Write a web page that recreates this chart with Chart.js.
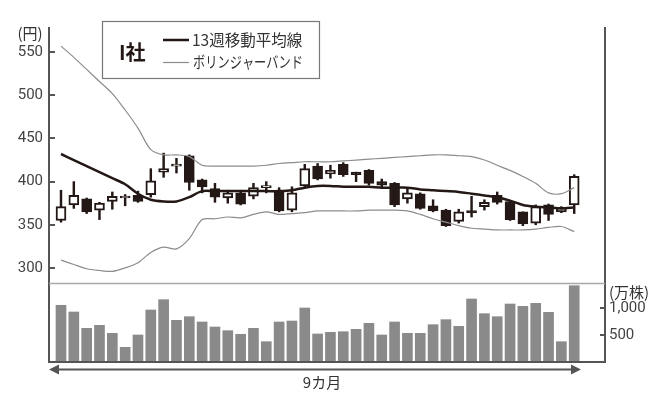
<!DOCTYPE html>
<html>
<head>
<meta charset="utf-8">
<script src="https://cdn.jsdelivr.net/npm/chart.js@4/dist/chart.umd.min.js"></script>
<style>
  body { margin: 0; background: #fff; }
  #wrap { width: 670px; height: 404px; }
</style>
</head>
<body>
<div id="wrap"><canvas id="chart" width="670" height="404"></canvas></div>
<script>
// weekly prices (yen), 41 weeks = 9 months
const openP  = [355, 373, 380, 367, 377, 381, 384, 385, 411, 418, 430, 402, 392, 381, 387, 383, 393, 388, 367, 395, 418,
                409, 420, 411, 413, 400, 398, 380, 386, 372, 367, 354, 366, 371, 384, 377, 365, 352, 373, 365, 373];
const highP  = [390, 400, 381, 376, 388, 385, 389, 415, 433, 427, 431, 403, 398, 390, 390, 398, 400, 393, 394, 420, 421,
                419, 422, 411, 414, 403, 399, 392, 387, 379, 368, 368, 383, 379, 388, 377, 365, 373, 374, 371, 408];
const lowP   = [353, 369, 363, 356, 368, 372, 376, 382, 405, 410, 390, 387, 376, 375, 373, 380, 387, 365, 365, 394, 402,
                404, 406, 400, 396, 394, 371, 375, 368, 365, 348, 352, 359, 367, 374, 355, 349, 350, 355, 364, 363];
const closeP = [371, 384, 365, 375, 383, 381, 377, 401, 415, 418, 399, 394, 382, 387, 374, 393, 393, 366, 387, 415, 403,
                413, 408, 408, 398, 396, 373, 387, 369, 366, 349, 365, 364, 376, 376, 356, 351, 371, 362, 370, 406];

// 13-week moving average and bollinger bands
const ma13    = [432, 425, 418, 411, 404, 397, 386, 379, 377, 377, 382, 389, 389, 389, 389, 389, 389, 389, 390, 393, 395,
                 395, 394, 394, 394, 393, 393, 393, 391, 390, 389, 388, 386, 384, 382, 378, 373, 371, 370, 369, 370];
const bandUp  = [557, 544, 530, 516, 502, 483, 462, 437, 431, 431, 429, 419, 418, 418, 418, 418, 419, 421, 422, 423, 423,
                 423, 424, 425, 426, 427, 428, 429, 430, 431, 431, 430, 429, 425, 419, 413, 406, 398, 387, 386, 393];
const bandLow = [309, 304, 299, 297, 296, 300, 306, 318, 324, 322, 334, 356, 357, 359, 358, 362, 365, 362, 363, 364, 366,
                 366, 366, 366, 367, 367, 367, 366, 362, 357, 353, 349, 346, 345, 344, 344, 344, 345, 347, 348, 342];

// volume (10k shares)
const volume = [1050, 926, 624, 679, 531, 272, 500, 963, 1154, 772, 839, 741, 648, 580, 513, 624, 376, 741, 759, 1000, 519,
                550, 561, 605, 716, 500, 741, 531, 531, 691, 784, 661, 1167, 895, 839, 1074, 1031, 1087, 920, 376, 1413];

const priceTicks = [300, 350, 400, 450, 500, 550];
const volTicks = [500, 1000];

const INK = "#231815";
const pts = arr => arr.map((v, i) => ({ x: i, y: v }));

const bodies = openP.map((o, i) => ({ x: i, y: [Math.min(o, closeP[i]), Math.max(o, closeP[i])] }));
const wicks = lowP.map((l, i) => ({ x: i, y: [l, highP[i]] }));
const bodyColors = openP.map((o, i) => closeP[i] >= o ? "#fff" : INK);

// extra drawing: inner ticks, panel lines, arrow, labels, legend box
const decor = {
  id: "decor",
  beforeDatasetsDraw(chart) {
    const ctx = chart.ctx, a = chart.chartArea;
    ctx.save();
    ctx.strokeStyle = "#a8a8a8";
    ctx.lineWidth = 1.5;
    ctx.beginPath();
    ctx.moveTo(a.left, 283.5);
    ctx.lineTo(a.right, 283.5);
    ctx.stroke();
    ctx.restore();
  },
  afterDraw(chart) {
    const ctx = chart.ctx, a = chart.chartArea;
    const y = chart.scales.y, y2 = chart.scales.y2;
    ctx.save();
    ctx.strokeStyle = "#555";
    ctx.lineWidth = 2;
    // bottom line
    ctx.beginPath();
    ctx.moveTo(a.left - 1, a.bottom);
    ctx.lineTo(a.right + 1, a.bottom);
    ctx.stroke();
    // inner ticks
    priceTicks.forEach(v => {
      const py = Math.round(y.getPixelForValue(v));
      ctx.beginPath(); ctx.moveTo(a.left, py); ctx.lineTo(a.left + 6, py); ctx.stroke();
    });
    volTicks.forEach(v => {
      const py = Math.round(y2.getPixelForValue(v));
      ctx.beginPath(); ctx.moveTo(a.right - 5, py); ctx.lineTo(a.right, py); ctx.stroke();
    });
    // period arrow
    const ay = 369.5;
    ctx.beginPath(); ctx.moveTo(54, ay); ctx.lineTo(574, ay); ctx.stroke();
    ctx.fillStyle = "#555";
    ctx.beginPath(); ctx.moveTo(49, ay); ctx.lineTo(59, ay - 5); ctx.lineTo(59, ay + 5); ctx.closePath(); ctx.fill();
    ctx.beginPath(); ctx.moveTo(581, ay); ctx.lineTo(571, ay - 5); ctx.lineTo(571, ay + 5); ctx.closePath(); ctx.fill();

    // texts
    ctx.fillStyle = "#333";
    ctx.textBaseline = "middle";
    ctx.font = "15px 'Noto Sans CJK JP'";
    ctx.textAlign = "center";
    ctx.fillText("9カ月", 322, 382);
    ctx.fillText("(円)", 30, 33);
    ctx.textAlign = "left";
    ctx.fillText("(万株)", 609, 292);

    // legend box
    ctx.strokeStyle = "#777";
    ctx.lineWidth = 1.2;
    ctx.strokeRect(102.5, 21.5, 217, 57);
    ctx.fillStyle = INK;
    ctx.font = "bold 20px 'Noto Sans CJK JP'";
    ctx.fillText("I社", 119, 52);
    ctx.strokeStyle = INK;
    ctx.lineWidth = 2.5;
    ctx.beginPath(); ctx.moveTo(163, 40); ctx.lineTo(189, 40); ctx.stroke();
    ctx.strokeStyle = "#8c8c8c";
    ctx.lineWidth = 1.2;
    ctx.beginPath(); ctx.moveTo(163, 62.5); ctx.lineTo(189, 62.5); ctx.stroke();
    ctx.fillStyle = "#333";
    ctx.font = "15.5px 'Noto Sans CJK JP'";
    ctx.fillText("13週移動平均線", 192, 40, 112);
    ctx.fillText("ボリンジャーバンド", 193, 62, 110);
    ctx.restore();
  }
};

new Chart(document.getElementById("chart"), {
  type: "bar",
  data: {
    datasets: [
      { type: "line", data: pts(ma13), borderColor: INK, borderWidth: 2.5, pointRadius: 0, tension: 0.3, yAxisID: "y", order: 0 },
      { type: "line", data: pts(bandUp), borderColor: "#8c8c8c", borderWidth: 1.2, pointRadius: 0, tension: 0.3, yAxisID: "y", order: 0 },
      { type: "line", data: pts(bandLow), borderColor: "#8c8c8c", borderWidth: 1.2, pointRadius: 0, tension: 0.3, yAxisID: "y", order: 0 },
      { data: bodies, backgroundColor: bodyColors, borderColor: INK, borderWidth: 2, borderSkipped: false,
        barThickness: 10, minBarLength: 2, grouped: false, yAxisID: "y", order: 1 },
      { data: wicks, backgroundColor: INK, barThickness: 1.8, grouped: false, yAxisID: "y", order: 2 },
      { data: pts(volume), backgroundColor: "#8a8a8a", barThickness: 10, grouped: false, yAxisID: "y2", order: 3 }
    ]
  },
  options: {
    responsive: false,
    animation: false,
    layout: { padding: { top: 28, bottom: 42, left: 0, right: 0 } },
    plugins: { legend: { display: false }, tooltip: { enabled: false } },
    scales: {
      x: { type: "linear", min: -0.935, max: 42.4, offset: false, display: false },
      y: {
        position: "left", min: 191, max: 578,
        afterBuildTicks: s => { s.ticks = priceTicks.map(v => ({ value: v })); },
        afterFit: s => { s.width = 49; },
        grid: { display: false, drawTicks: false },
        border: { display: true, color: "#555", width: 2 },
        ticks: { font: { family: "Roboto", size: 15 }, color: "#444", padding: 6 }
      },
      y2: {
        position: "right", min: 0, max: 6185,
        afterBuildTicks: s => { s.ticks = volTicks.map(v => ({ value: v })); },
        afterFit: s => { s.width = 65; },
        grid: { display: false, drawTicks: false },
        border: { display: true, color: "#555", width: 2 },
        ticks: { font: { family: "Roboto", size: 15 }, color: "#444", padding: 4,
                 callback: v => v.toLocaleString("en-US") }
      }
    }
  },
  plugins: [decor]
});
</script>
</body>
</html>
